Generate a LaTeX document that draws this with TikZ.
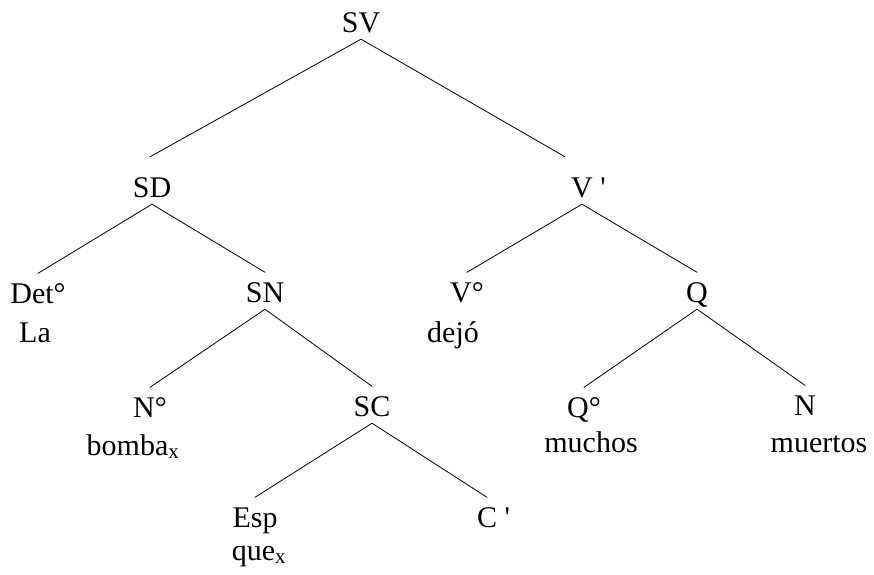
\documentclass[tikz,border=0pt]{standalone}
\usepackage{fontspec}
\newfontfamily\treefont{Liberation Serif}

\begin{document}
\begin{tikzpicture}[x=1pt, y=-1pt, line cap=round, line join=round,
    cat/.style={font=\treefont\fontsize{30}{36}\selectfont, anchor=base,
        text height=22.5pt, text depth=0pt, inner xsep=0pt, inner ysep=7pt},
    word/.style={font=\treefont\fontsize{30}{36}\selectfont, anchor=base, inner sep=0pt},
    branch/.style={line width=0.8pt}]

    \useasboundingbox (0,0) rectangle (874,574);

    % categories
    \node[cat] (SV) at (361,32) {SV};
    \node[cat] (SD) at (152,197) {SD};
    \node[cat] (Vbar) at (582,197) {V\rlap{\ '}};
    \node[cat] (Det) at (38,303) {Det°};
    \node[cat] (SN) at (265,302) {SN};
    \node[cat] (V0) at (467,302) {V°};
    \node[cat] (Q) at (697,302) {Q};
    \node[cat] (N0) at (150,417) {N°};
    \node[cat] (SC) at (372,416) {SC};
    \node[cat] (Q0) at (584,417) {Q°};
    \node[cat] (N) at (805,415) {N};
    \node[cat] (Esp) at (255,527) {Esp};
    \node[cat] (Cbar) at (487,527) {C\rlap{\ '}};

    % words
    \node[word] (La) at (35,342) {La};
    \node[word] (dejo) at (453,342) {dejó};
    \node[word] (bomba) at (133,455) {bomba\textsubscript{x}};
    \node[word] (muchos) at (591,452) {muchos};
    \node[word] (muertos) at (819,452) {muertos};
    \node[word] (que) at (259,560) {que\textsubscript{x}};

    % branches
    \draw[branch] (SV.south) -- ([xshift=-2pt, yshift=10.5pt]SD.north);
    \draw[branch] (SV.south) -- ([xshift=-17pt, yshift=10.5pt]Vbar.north);
    \draw[branch] (SD.south) -- (Det.north);
    \draw[branch] (SD.south) -- (SN.north);
    \draw[branch] (Vbar.south) -- (V0.north);
    \draw[branch] (Vbar.south) -- (Q.north);
    \draw[branch] (SN.south) -- (N0.north);
    \draw[branch] (SN.south) -- (SC.north);
    \draw[branch] (Q.south) -- (Q0.north);
    \draw[branch] (Q.south) -- (N.north);
    \draw[branch] (SC.south) -- (Esp.north);
    \draw[branch] (SC.south) -- (Cbar.north);

\end{tikzpicture}
\end{document}
